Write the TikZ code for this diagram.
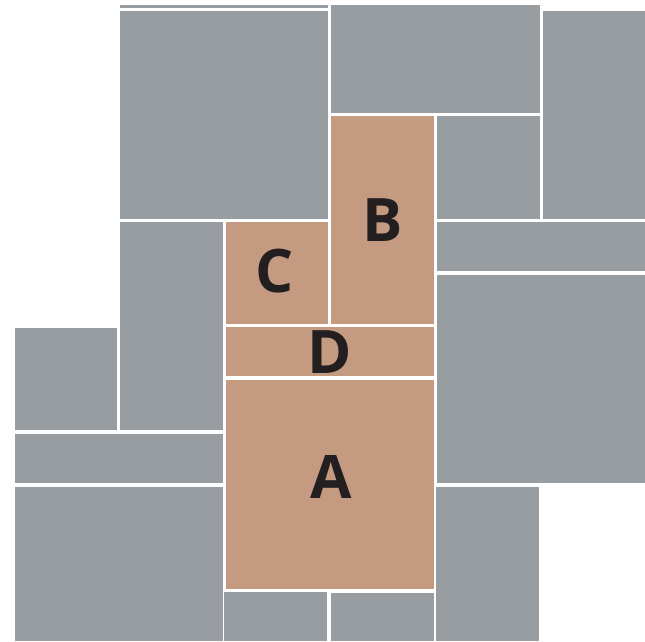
\documentclass[tikz,border=0pt]{standalone}
\usepackage{fontspec}
\setmainfont{Open Sans}
\definecolor{stone}{RGB}{152,157,161}
\definecolor{tan}{RGB}{196,155,128}
\definecolor{ink}{RGB}{35,31,32}
\tikzset{
  grayslab/.style={fill=stone},
  tanslab/.style={fill=tan},
  letter/.style={text=ink,font=\fontsize{60}{60}\selectfont\bfseries,inner sep=0pt}
}
\begin{document}
\begin{tikzpicture}[x=1pt,y=-1pt]
\useasboundingbox (0,0) rectangle (645,641);
\fill[white] (0,0) rectangle (645,641);
% gray slabs
\fill[grayslab] (120,5) rectangle (328,8);
\fill[grayslab] (120,11) rectangle (328,219);
\fill[grayslab] (331,5) rectangle (540,113);
\fill[grayslab] (543,11) rectangle (645,219);
\fill[grayslab] (437,116) rectangle (540,219);
\fill[grayslab] (437,222) rectangle (645,271);
\fill[grayslab] (437,275) rectangle (645,483);
\fill[grayslab] (436,487) rectangle (539,641);
\fill[grayslab] (120,222) rectangle (223,430);
\fill[grayslab] (15,328) rectangle (117,430);
\fill[grayslab] (15,434) rectangle (223,483);
\fill[grayslab] (15,487) rectangle (223,641);
\fill[grayslab] (224,592) rectangle (327,641);
\fill[grayslab] (331,593) rectangle (434,641);
% tan slabs
\fill[tanslab] (331,116) rectangle (434,324);
\fill[tanslab] (226,222) rectangle (328,324);
\fill[tanslab] (226,327) rectangle (434,376);
\fill[tanslab] (226,380) rectangle (434,589);
% labels
\node[letter] (B) at (382.5,220.5) {B};
\node[letter] (C) at (274.5,271) {C};
\node[letter] (D) at (330,352.5) {D};
\node[letter] (A) at (331.5,477) {A};
\end{tikzpicture}
\end{document}
